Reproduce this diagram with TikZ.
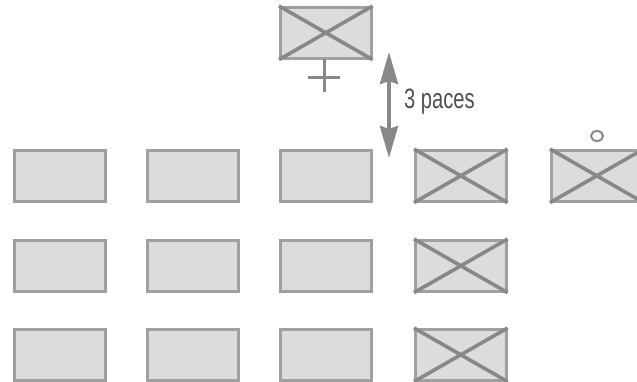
\documentclass[tikz,border=0pt]{standalone}
\usepackage{fontspec}
\setmainfont{Liberation Sans}
\usetikzlibrary{arrows.meta,shapes.geometric}
\definecolor{boxfill}{HTML}{DCDCDC}
\definecolor{boxline}{HTML}{A0A0A0}
\definecolor{crossline}{HTML}{888888}
\definecolor{txt}{HTML}{505050}
\begin{document}
\begin{tikzpicture}[x=1pt,y=-1pt,
  desk/.style={draw=boxline,fill=boxfill,line width=2.6pt,minimum width=91pt,minimum height=51pt,inner sep=0pt,anchor=north west},
  crossx/.style={draw=crossline,line width=3.6pt},
  marker/.style={draw=crossline,line width=3pt}]
\useasboundingbox (0,0) rectangle (637,381);
% grid of desks
\node[desk] (a1) at (13,149) {};
\node[desk] (b1) at (146,149) {};
\node[desk] (c1) at (279,149) {};
\node[desk] (d1) at (414,149) {};
\node[desk] (e1) at (550,149) {};
\node[desk] (a2) at (13,239) {};
\node[desk] (b2) at (146,239) {};
\node[desk] (c2) at (279,239) {};
\node[desk] (d2) at (414,239) {};
\node[desk] (a3) at (13,328) {};
\node[desk] (b3) at (146,328) {};
\node[desk] (c3) at (279,328) {};
\node[desk] (d3) at (414,328) {};
\node[desk] (top) at (279,6) {};
% crosses
\foreach \n in {d1,e1,d2,d3,top}{
  \draw[crossx] (\n.north west) -- (\n.south east);
  \draw[crossx] (\n.north east) -- (\n.south west);
}
% plus under top desk
\coordinate (pc) at (324,77);
\draw[marker] ([xshift=-16pt]pc) -- ([xshift=16pt]pc);
\draw[marker] (324,59) -- (324,92);
% circle above right desk
\node[draw=crossline,line width=2pt,ellipse,minimum width=12pt,minimum height=10pt,inner sep=0pt] (o) at (597,136) {};
% arrow
\coordinate (arrtop) at (389,52);
\coordinate (arrbot) at (389,158);
\draw[crossline,line width=4pt,{Stealth[length=32pt,width=18pt,inset=3pt]}-{Stealth[length=32pt,width=18pt,inset=3pt]}] (arrtop) -- (arrbot);
\node[anchor=west,text=txt,font=\fontsize{28}{32}\selectfont,inner sep=0pt,xscale=0.72] (lbl) at (404,102) {3 paces};
\end{tikzpicture}
\end{document}
